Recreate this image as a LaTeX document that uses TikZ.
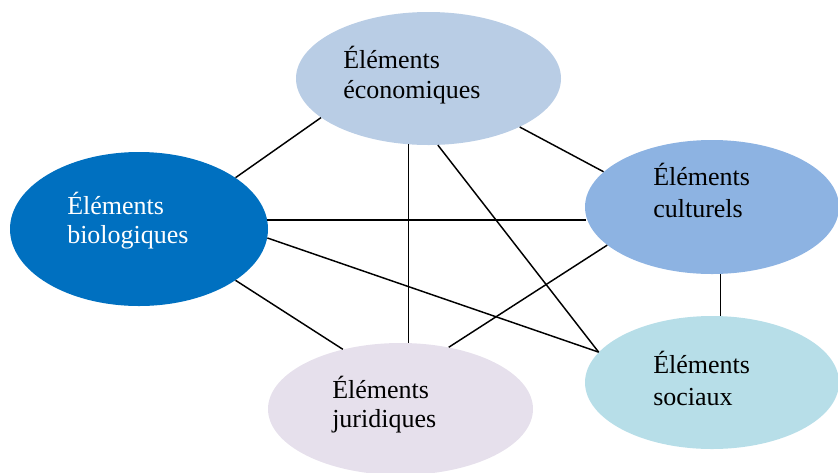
\documentclass[tikz,border=0pt]{standalone}
\usepackage{fontspec}
\setmainfont{Liberation Serif}
\usetikzlibrary{shapes.geometric}
\definecolor{ecoC}{RGB}{185,205,229}
\definecolor{bioC}{RGB}{0,112,192}
\definecolor{culC}{RGB}{141,179,226}
\definecolor{socC}{RGB}{183,222,232}
\definecolor{jurC}{RGB}{230,224,236}
\tikzset{
  blob/.style={ellipse, draw=none, inner sep=0pt},
  lbl/.style={anchor=base west, inner sep=0pt, font=\fontsize{19.5}{23}\selectfont},
  link/.style={draw=black, line width=1.1pt}
}
\begin{document}
\begin{tikzpicture}[x=0.75pt, y=-0.75pt]
\useasboundingbox (0,0) rectangle (838,472);
\clip (0,0) rectangle (838,472);
\node[blob, fill=ecoC, minimum width=265*0.75pt, minimum height=133*0.75pt] (eco) at (428.5,78.5) {};
\node[blob, fill=bioC, minimum width=258*0.75pt, minimum height=154*0.75pt] (bio) at (139,229) {};
\node[blob, fill=culC, minimum width=254*0.75pt, minimum height=134*0.75pt] (cult) at (712,207) {};
\node[blob, fill=socC, minimum width=254*0.75pt, minimum height=133*0.75pt] (soc) at (712,382.5) {};
\node[blob, fill=jurC, minimum width=265*0.75pt, minimum height=132*0.75pt] (jur) at (400.5,409) {};

\node[lbl] (eco1) at (343,68) {Éléments};
\node[lbl] (eco2) at (343,98) {économiques};
\node[lbl, text=white] (bio1) at (67,214) {Éléments};
\node[lbl, text=white] (bio2) at (67,243) {biologiques};
\node[lbl] (cult1) at (653,185) {Éléments};
\node[lbl] (cult2) at (653,217) {culturels};
\node[lbl] (soc1) at (653,373) {Éléments};
\node[lbl] (soc2) at (653,405) {sociaux};
\node[lbl] (jur1) at (332,398) {Éléments};
\node[lbl] (jur2) at (332,427) {juridiques};

\draw[link] (bio.28) -- (eco.200.5);
\draw[link] (bio.4.47) -- (cult.185.49 |- bio.4.47);
\draw[link] (bio.356.4) -- (soc.165.4);
\draw[link] (bio.332.4) -- (jur.134.1);
\draw[link] (eco.253.5) -- (eco.253.5 |- jur.north);
\draw[link] (eco.278.9) -- (soc.165.4);
\draw[link] (eco.332.2) -- (cult.162.5);
\draw[link] (cult.200.8) -- (jur.52.3);
\draw[link] (cult.277.4) -- (cult.277.4 |- soc.north);
\end{tikzpicture}
\end{document}
